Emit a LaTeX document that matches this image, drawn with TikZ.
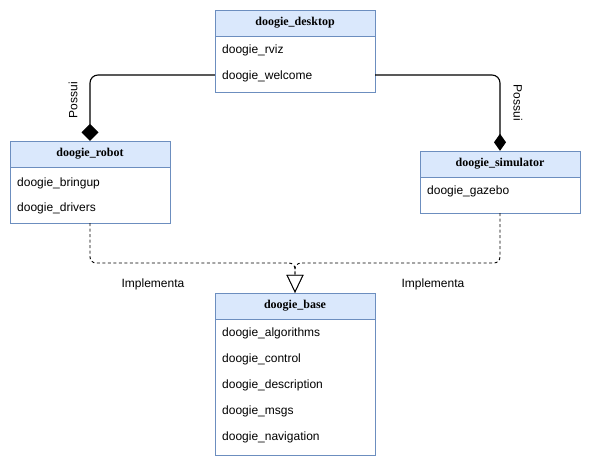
\documentclass[tikz,border=0pt]{standalone}
\usepackage{fontspec}
\setmainfont{Liberation Serif}
\newfontfamily\sansf{Liberation Sans}
\usetikzlibrary{arrows.meta}
\definecolor{hdrcol}{HTML}{DAE8FC}
\definecolor{bordercol}{HTML}{6C8EBF}
\tikzset{
  hdr/.style={draw=bordercol, fill=hdrcol, minimum width=160pt, minimum height=26pt, inner sep=0pt, font=\fontsize{12}{14}\selectfont\bfseries},
  bodybox/.style={draw=bordercol, fill=white, minimum width=160pt, inner sep=0pt},
  item/.style={anchor=west, inner sep=0pt, yshift=-1.5pt, font=\sansf\fontsize{12}{14}\selectfont},
  lbl/.style={inner sep=0pt, font=\sansf\fontsize{12}{14}\selectfont},
  conn/.style={line width=1.1pt, rounded corners=8pt},
  impl/.style={line width=0.9pt, dash pattern=on 3pt off 2.5pt, rounded corners=6pt},
}
\begin{document}
\begin{tikzpicture}[x=1pt,y=-1pt]
\useasboundingbox (0,0) rectangle (591,466);
% doogie_desktop
\node[hdr] (dskH) at (295,23) {doogie\_desktop};
\node[bodybox, minimum height=56pt] (dskB) at (295,64) {};
\node[item] (d1) at (222,49) {doogie\_rviz};
\node[item] (d2) at (222,75) {doogie\_welcome};
% doogie_robot
\node[hdr] (robH) at (90,154) {doogie\_robot};
\node[bodybox, minimum height=56pt] (robB) at (90,195) {};
\node[item] (r1) at (17,182) {doogie\_bringup};
\node[item] (r2) at (17,207) {doogie\_drivers};
% doogie_simulator
\node[hdr] (simH) at (500,164) {doogie\_simulator};
\node[bodybox, minimum height=36pt] (simB) at (500,195) {};
\node[item] (s1) at (427,190) {doogie\_gazebo};
% doogie_base
\node[hdr] (basH) at (295,306) {doogie\_base};
\node[bodybox, minimum height=136pt] (basB) at (295,387) {};
\node[item] (b1) at (222,332) {doogie\_algorithms};
\node[item] (b2) at (222,358) {doogie\_control};
\node[item] (b3) at (222,384) {doogie\_description};
\node[item] (b4) at (222,410) {doogie\_msgs};
\node[item] (b5) at (222,436) {doogie\_navigation};
% composition connectors
\coordinate (dl) at (dskB.west |- 0,75);
\coordinate (dr) at (dskB.east |- 0,75);
\draw[conn, -{Diamond[length=17pt,width=17pt]}] (dl) -| (robH.north);
\draw[conn, -{Diamond[length=17pt,width=12pt]}] (dr) -| (simH.north);
\node[lbl, rotate=90] (p1) at (73,100) {Possui};
\node[lbl, rotate=-90] (p2) at (518,103) {Possui};
% implementation connectors
\coordinate (mid) at (295,263);
\draw[impl, -{Triangle[length=18pt,width=17pt,fill=white,line width=0.9pt]}] (robB.south) |- (mid) -- (basH.north);
\draw[impl, -{Triangle[length=18pt,width=17pt,fill=white,line width=0.9pt]}] (simB.south) |- (mid) -- (basH.north);
\node[lbl] (i1) at (153,284) {Implementa};
\node[lbl] (i2) at (433,284) {Implementa};
\end{tikzpicture}
\end{document}
